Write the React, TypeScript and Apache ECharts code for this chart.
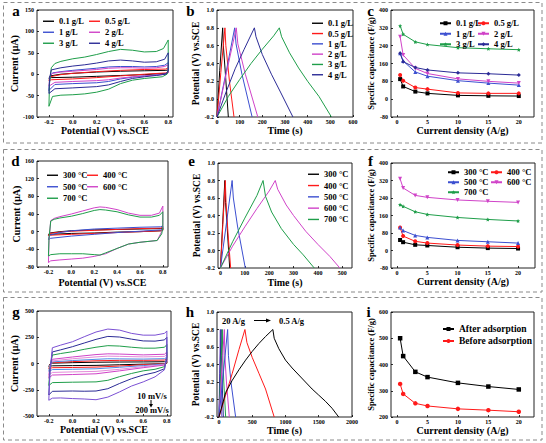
import React, { useEffect, useRef } from 'react';
import * as echarts from 'echarts';

const FONT = '"Liberation Serif", "Times New Roman", serif';

// ---------- tick values ----------
const cvXTicks = [-0.2, 0, 0.2, 0.4, 0.6, 0.8];
const aYTicks = [-100, -50, 0, 50, 100, 150];
const bXTicks = [0, 100, 200, 300, 400, 500, 600];
const gcdYTicks = [-0.2, 0, 0.2, 0.4, 0.6, 0.8, 1.0];
const capXTicks = [0, 5, 10, 15, 20];
const capYTicks = [-80, 0, 80, 160, 240, 320, 400];
const dYTicks = [-80, -40, 0, 40, 80, 120, 160];
const eXTicks = [0, 100, 200, 300, 400, 500];
const gYTicks = [-500, -250, 0, 250, 500];
const hXTicks = [0, 500, 1000, 1500, 2000];
const iYTicks = [200, 300, 400, 500, 600];

// ---------- categories ----------
const concLabels = ['0.1 g/L', '0.5 g/L', '1 g/L', '2 g/L', '3 g/L', '4 g/L'];
const tempLabels = ['300 °C', '400 °C', '500 °C', '600 °C', '700 °C'];
const adsLabels = ['After adsorption', 'Before adsorption'];
const currentDensity = [0.5, 1, 3, 5, 10, 15, 20];

// ---------- panel a: CV at different concentrations ----------
const cvA_01 = [[-0.2,-10],[-0.19,-4],[-0.1,0],[0,2],[0.2,5],[0.4,7],[0.6,8],[0.78,9],[0.8,10],[0.8,4],[0.79,2],[0.6,-1],[0.4,-3],[0.2,-5],[0,-7],[-0.18,-8],[-0.2,-10]];
const cvA_05 = [[-0.2,-15],[-0.19,-6],[-0.1,-1],[0,2],[0.2,6],[0.4,9],[0.6,11],[0.78,12],[0.8,15],[0.8,6],[0.78,3],[0.6,0],[0.4,-4],[0.2,-8],[0,-11],[-0.18,-13],[-0.2,-15]];
const cvA_1 = [[-0.2,-38],[-0.19,-5],[-0.17,3],[-0.1,6],[0,9],[0.2,14],[0.3,17],[0.4,18],[0.5,18],[0.6,17],[0.7,18],[0.77,21],[0.8,27],[0.8,5],[0.78,1],[0.7,-2],[0.6,-4],[0.5,-7],[0.4,-11],[0.3,-17],[0.2,-20],[0,-22],[-0.15,-24],[-0.2,-38]];
const cvA_2 = [[-0.2,-28],[-0.19,-4],[-0.17,2],[-0.1,5],[0,7],[0.2,11],[0.3,14],[0.4,15],[0.5,15],[0.6,14],[0.7,15],[0.77,18],[0.8,22],[0.8,3],[0.78,0],[0.7,-2],[0.6,-4],[0.5,-6],[0.4,-9],[0.3,-13],[0.2,-15],[0,-17],[-0.15,-19],[-0.2,-28]];
const cvA_3 = [[-0.2,-75],[-0.195,-20],[-0.18,15],[-0.15,25],[-0.1,30],[0,36],[0.1,40],[0.2,46],[0.3,53],[0.4,58],[0.5,56],[0.6,52],[0.7,53],[0.76,60],[0.8,80],[0.8,10],[0.79,0],[0.75,-6],[0.6,-10],[0.5,-14],[0.4,-22],[0.3,-35],[0.2,-42],[0.1,-46],[0,-48],[-0.1,-49],[-0.17,-52],[-0.2,-75]];
const cvA_4 = [[-0.2,-45],[-0.195,-10],[-0.18,10],[-0.1,15],[0,19],[0.1,22],[0.2,26],[0.3,31],[0.4,33],[0.5,31],[0.6,28],[0.7,29],[0.77,35],[0.8,50],[0.8,8],[0.78,0],[0.7,-3],[0.6,-6],[0.5,-10],[0.4,-17],[0.3,-25],[0.2,-29],[0,-32],[-0.15,-34],[-0.2,-45]];

// ---------- panel b: GCD at different concentrations ----------
const gcdB_01 = [[0,-0.2],[12,0.32],[25,0.8],[28,0.6],[38,0.25],[50,-0.2]];
const gcdB_05 = [[0,-0.2],[17,0.3],[35,0.8],[39,0.6],[55,0.2],[75,-0.2]];
const gcdB_1 = [[0,-0.2],[40,0.3],[78,0.8],[84,0.62],[110,0.28],[155,-0.2]];
const gcdB_2 = [[0,-0.2],[42,0.3],[85,0.8],[92,0.62],[125,0.28],[180,-0.2]];
const gcdB_3 = [[0,-0.2],[50,0.03],[100,0.22],[150,0.4],[200,0.56],[250,0.71],[275,0.8],[285,0.7],[320,0.52],[360,0.35],[400,0.2],[450,0.03],[505,-0.2]];
const gcdB_4 = [[0,-0.2],[40,0.08],[80,0.34],[120,0.56],[165,0.8],[172,0.7],[200,0.5],[240,0.28],[280,0.08],[335,-0.2]];

// ---------- panel c: specific capacitance by concentration ----------
const capC_01 = [90, 57, 34, 26, 17, 15, 14];
const capC_05 = [108, 83, 52, 45, 28, 26, 26];
const capC_1 = [206, 171, 122, 103, 83, 72, 63];
const capC_2 = [280, 198, 138, 115, 91, 80, 72];
const capC_3 = [329, 291, 257, 245, 231, 226, 222];
const capC_4 = [206, 168, 142, 131, 118, 114, 108];

// ---------- panel d: CV at different temperatures ----------
const cvD_300 = [[-0.2,-8],[-0.19,-3],[-0.1,0],[0,2],[0.2,4],[0.4,5],[0.6,6],[0.78,7],[0.8,8],[0.8,3],[0.78,2],[0.6,0],[0.4,-1],[0.2,-3],[0,-4],[-0.18,-6],[-0.2,-8]];
const cvD_400 = [[-0.2,-9],[-0.19,-4],[-0.1,-1],[0,1],[0.2,3],[0.4,5],[0.6,7],[0.78,8],[0.8,10],[0.8,4],[0.78,2],[0.6,0],[0.4,-2],[0.2,-4],[0,-6],[-0.18,-8],[-0.2,-9]];
const cvD_500 = [[-0.2,-18],[-0.19,-8],[-0.1,-2],[0,2],[0.2,6],[0.4,8],[0.6,10],[0.78,11],[0.8,13],[0.8,6],[0.78,4],[0.6,1],[0.4,-2],[0.2,-6],[0,-10],[-0.18,-15],[-0.2,-18]];
const cvD_600 = [[-0.2,-70],[-0.195,-20],[-0.18,25],[-0.15,30],[-0.1,34],[0,40],[0.1,47],[0.2,54],[0.25,56],[0.3,55],[0.4,50],[0.5,42],[0.6,37],[0.7,37],[0.77,42],[0.8,58],[0.8,15],[0.79,0],[0.75,-20],[0.6,-24],[0.5,-28],[0.4,-38],[0.3,-50],[0.2,-56],[0.1,-60],[0,-62],[-0.1,-64],[-0.18,-66],[-0.2,-70]];
const cvD_700 = [[-0.2,-55],[-0.195,-15],[-0.18,24],[-0.15,28],[-0.1,31],[0,35],[0.1,41],[0.2,48],[0.25,50],[0.3,49],[0.4,45],[0.5,38],[0.6,33],[0.7,33],[0.77,37],[0.8,45],[0.8,10],[0.79,-5],[0.75,-20],[0.6,-24],[0.5,-28],[0.4,-38],[0.3,-48],[0.25,-53],[0.2,-52],[0.1,-50],[0,-50],[-0.1,-50],[-0.18,-52],[-0.2,-55]];

// ---------- panel e: GCD at different temperatures ----------
const gcdE_300 = [[0,-0.2],[9,0.3],[18,0.8],[21,0.55],[28,0.25],[38,-0.2]];
const gcdE_400 = [[0,-0.2],[10,0.3],[20,0.8],[23,0.55],[31,0.2],[42,-0.2]];
const gcdE_500 = [[0,-0.2],[24,0.3],[48,0.8],[53,0.6],[70,0.28],[102,-0.2]];
const gcdE_600 = [[0,-0.2],[50,0.05],[100,0.27],[150,0.48],[200,0.68],[225,0.8],[235,0.7],[270,0.52],[300,0.4],[350,0.22],[400,0.07],[450,-0.07],[490,-0.2]];
const gcdE_700 = [[0,-0.2],[50,0.1],[100,0.37],[150,0.63],[175,0.8],[185,0.62],[210,0.44],[250,0.25],[300,0.07],[340,-0.05],[385,-0.2]];

// ---------- panel f: specific capacitance by temperature ----------
const capF_300 = [48, 38, 26, 23, 15, 11, 9];
const capF_400 = [105, 66, 42, 34, 25, 20, 18];
const capF_500 = [105, 91, 69, 60, 46, 40, 34];
const capF_600 = [328, 286, 252, 243, 231, 225, 220];
const capF_700 = [209, 202, 177, 165, 151, 142, 135];

// ---------- panel g: CV at scan rates 10 -> 200 mV/s ----------
const cvG_1 = [[-0.2,-28],[-0.19,-5],[-0.17,3],[0,8],[0.2,12],[0.4,14],[0.6,15],[0.78,17],[0.8,22],[0.8,3],[0.78,-2],[0.6,-6],[0.4,-12],[0.2,-18],[0,-20],[-0.17,-22],[-0.2,-28]];
const cvG_2 = [[-0.2,-50],[-0.19,-10],[-0.17,8],[0,18],[0.2,26],[0.4,30],[0.6,30],[0.78,33],[0.8,42],[0.8,8],[0.78,-3],[0.6,-12],[0.4,-24],[0.2,-34],[0,-38],[-0.17,-40],[-0.2,-50]];
const cvG_3 = [[-0.2,-75],[-0.19,-15],[-0.17,15],[0,28],[0.2,40],[0.3,45],[0.4,44],[0.6,42],[0.78,46],[0.8,58],[0.8,12],[0.78,-5],[0.6,-20],[0.4,-36],[0.2,-50],[0,-55],[-0.17,-58],[-0.2,-75]];
const cvG_4 = [[-0.2,-110],[-0.19,-20],[-0.17,25],[0,45],[0.2,63],[0.3,70],[0.4,68],[0.6,63],[0.78,68],[0.8,85],[0.8,20],[0.78,-10],[0.6,-30],[0.4,-55],[0.2,-75],[0,-80],[-0.17,-85],[-0.2,-110]];
const cvG_5 = [[-0.2,-140],[-0.19,-30],[-0.17,40],[0,62],[0.2,85],[0.3,92],[0.4,90],[0.6,82],[0.78,88],[0.8,110],[0.8,25],[0.78,-15],[0.6,-40],[0.4,-70],[0.2,-98],[0,-105],[-0.17,-110],[-0.2,-140]];
const cvG_6 = [[-0.2,-210],[-0.19,-40],[-0.17,80],[-0.1,95],[0,112],[0.1,135],[0.2,155],[0.3,170],[0.4,166],[0.5,155],[0.6,146],[0.7,146],[0.78,155],[0.8,180],[0.8,40],[0.78,-30],[0.7,-55],[0.6,-70],[0.5,-95],[0.4,-125],[0.3,-160],[0.2,-175],[0,-178],[-0.17,-182],[-0.2,-210]];
const cvG_7 = [[-0.2,-300],[-0.19,-60],[-0.17,110],[-0.1,130],[0,160],[0.1,195],[0.2,230],[0.3,258],[0.4,252],[0.5,232],[0.6,215],[0.7,213],[0.78,225],[0.8,250],[0.8,60],[0.78,-50],[0.7,-85],[0.6,-110],[0.5,-145],[0.4,-190],[0.3,-240],[0.2,-262],[0.1,-264],[0,-262],[-0.17,-265],[-0.2,-300]];
const cvG_8 = [[-0.2,-350],[-0.19,-80],[-0.17,150],[-0.1,175],[0,207],[0.1,255],[0.2,300],[0.3,328],[0.4,318],[0.5,287],[0.6,270],[0.7,270],[0.78,287],[0.8,310],[0.8,90],[0.78,-60],[0.7,-127],[0.6,-175],[0.5,-215],[0.4,-270],[0.3,-320],[0.2,-345],[0.1,-338],[0,-334],[-0.1,-328],[-0.17,-330],[-0.2,-350]];

// ---------- panel h: GCD at 20 -> 0.5 A/g ----------
const gcdH_20 = [[0,-0.2],[10,0.3],[20,0.8],[23,0.5],[30,0.2],[42,-0.2]];
const gcdH_15 = [[0,-0.2],[15,0.3],[32,0.8],[36,0.5],[48,0.2],[65,-0.2]];
const gcdH_10 = [[0,-0.2],[25,0.3],[50,0.8],[56,0.5],[72,0.2],[100,-0.2]];
const gcdH_5 = [[0,-0.2],[40,0.3],[80,0.8],[88,0.5],[112,0.2],[155,-0.2]];
const gcdH_3 = [[0,-0.2],[65,0.3],[130,0.8],[142,0.5],[180,0.2],[250,-0.2]];
const gcdH_1 = [[0,-0.2],[100,0.05],[200,0.3],[300,0.57],[390,0.8],[420,0.65],[500,0.48],[600,0.3],[700,0.12],[830,-0.2]];
const gcdH_05 = [[0,-0.2],[100,0.08],[200,0.22],[300,0.34],[400,0.45],[500,0.55],[600,0.64],[700,0.72],[810,0.8],[830,0.7],[900,0.58],[1000,0.45],[1100,0.36],[1200,0.28],[1300,0.2],[1400,0.12],[1500,0.05],[1600,-0.02],[1700,-0.1],[1800,-0.2]];

// ---------- panel i ----------
const capI_after = [500, 432, 372, 352, 330, 316, 305];
const capI_before = [326, 288, 252, 242, 231, 226, 220];

// ---------- colours ----------
const C = {
  black: '#000000', red: '#ff1a1a', blue: '#3c4fd0', magenta: '#d043c8',
  green: '#1f9e4a', navy: '#2b2b96', lblue: '#4d8de6', pink: '#e58ad9', violet: '#7b50d4',
};

const STAR = 'path://M0,-10 L2.9,-4 L9.5,-3.1 L4.8,1.5 L5.9,8.1 L0,5 L-5.9,8.1 L-4.8,1.5 L-9.5,-3.1 L-2.9,-4 Z';

const fmt1 = (v: number) => (Math.abs(v) < 1e-9 ? '0.0' : v.toFixed(1));
const fmt0 = (v: number) => String(Math.round(v));

function xAx(i: number, min: number, max: number, ticks: number[], fmt: any, name: string, gap: number) {
  return {
    type: 'value', gridIndex: i, min, max, name, nameLocation: 'middle', nameGap: gap,
    nameTextStyle: { fontFamily: FONT, fontWeight: 'bold', fontSize: 10, color: '#000' },
    axisLine: { show: false, onZero: false }, splitLine: { show: false },
    axisTick: { show: true, inside: true, length: 2, lineStyle: { color: '#000', width: 0.8 }, customValues: ticks },
    axisLabel: { fontFamily: FONT, fontWeight: 'bold', fontSize: 6, color: '#000', margin: 2, customValues: ticks, formatter: fmt },
  };
}
function yAx(i: number, min: number, max: number, ticks: number[], fmt: any, name: string, gap: number, nameSize = 10) {
  return {
    type: 'value', gridIndex: i, min, max, name, nameLocation: 'middle', nameGap: gap,
    nameTextStyle: { fontFamily: FONT, fontWeight: 'bold', fontSize: nameSize, color: '#000' },
    axisLine: { show: false, onZero: false }, splitLine: { show: false },
    axisTick: { show: true, inside: true, length: 2, lineStyle: { color: '#000', width: 0.8 }, customValues: ticks },
    axisLabel: { fontFamily: FONT, fontWeight: 'bold', fontSize: 6, color: '#000', margin: 3, customValues: ticks, formatter: fmt },
  };
}
function line(p: string, i: number, name: string, data: any, color: string) {
  return {
    type: 'line', name: p + '#' + name, xAxisIndex: i, yAxisIndex: i, data, symbol: 'none',
    lineStyle: { color, width: 1 }, itemStyle: { color }, silent: true,
  };
}
function cap(p: string, i: number, name: string, vals: number[], color: string, symbol: string, rot = 0, size = 4) {
  return {
    type: 'line', name: p + '#' + name, xAxisIndex: i, yAxisIndex: i,
    data: currentDensity.map((x, k) => [x, vals[k]]),
    symbol, symbolSize: size, symbolRotate: rot, showSymbol: true,
    lineStyle: { color, width: 1 }, itemStyle: { color, borderWidth: 0 }, silent: true,
  };
}
// plain line legends (no marker)
function legendL(left: number, top: number, names: string[], gap: number, fontSize = 8.5) {
  return {
    left, top, orient: 'vertical', data: names, itemGap: gap, itemWidth: 11, itemHeight: 1.4, padding: 0,
    icon: 'rect', selectedMode: false,
    textStyle: { fontFamily: FONT, fontWeight: 'bold', fontSize, color: '#000' },
    formatter: (n: string) => n.split('#')[1],
  };
}
// line + marker legends
function legendM(left: number, top: number, names: string[], gap: number, fontSize = 8.5) {
  return {
    left, top, orient: 'vertical', data: names, itemGap: gap, itemWidth: 11, itemHeight: 5, padding: 0,
    selectedMode: false, itemStyle: { borderWidth: 0 },
    textStyle: { fontFamily: FONT, fontWeight: 'bold', fontSize, color: '#000' },
    formatter: (n: string) => n.split('#')[1],
  };
}
const pn = (p: string, arr: string[]) => arr.map((n) => p + '#' + n);

export default function App() {
  const ref = useRef<HTMLDivElement>(null);
  useEffect(() => {
    if (!ref.current) return;
    const chart = echarts.init(ref.current, undefined, { renderer: 'svg' });
    const gridBox = (left: number, top: number, width: number, height: number) => ({
      left, top, width, height, show: true, borderColor: '#222', borderWidth: 1, backgroundColor: 'transparent',
    });
    const grids = [
      gridBox(37, 10, 136, 107),
      gridBox(217, 10, 136, 107),
      gridBox(391, 10, 143, 107),
      gridBox(37, 161, 131, 106),
      gridBox(218, 163, 134, 105),
      gridBox(391, 163, 144, 105),
      gridBox(37, 311, 134, 105),
      gridBox(217, 312, 135, 105),
      gridBox(391, 312, 143, 105),
    ];
    const xAxes = [
      xAx(0, -0.3, 0.84, cvXTicks, fmt1, 'Potential (V) vs.SCE', 8),
      xAx(1, 0, 600, bXTicks, fmt0, 'Time (s)', 8),
      xAx(2, -1, 22.5, capXTicks, fmt0, 'Current density (A/g)', 4),
      xAx(3, -0.3, 0.845, cvXTicks, fmt1, 'Potential (V) vs.SCE', 10),
      xAx(4, -10, 540, eXTicks, fmt0, 'Time (s)', 9),
      xAx(5, -1, 22.8, capXTicks, fmt0, 'Current density (A/g)', 7),
      xAx(6, -0.3, 0.835, cvXTicks, fmt1, 'Potential (V) vs.SCE', 8.5),
      xAx(7, -30, 2000, hXTicks, fmt0, 'Time (s)', 7),
      xAx(8, -1, 22.5, capXTicks, fmt0, 'Current density (A/g)', 6.5),
    ];
    const yAxes = [
      yAx(0, -100, 150, aYTicks, fmt0, 'Current (μA)', 14),
      yAx(1, -0.2, 1.0, gcdYTicks, fmt1, 'Potential (V) vs.SCE', 16, 9.5),
      yAx(2, -80, 400, capYTicks, fmt0, 'Specific capacitance (F/g)', 11, 8.5),
      yAx(3, -80, 160, dYTicks, fmt0, 'Current (μA)', 11.5),
      yAx(4, -0.2, 1.0, gcdYTicks, fmt1, 'Potential (V) vs.SCE', 16, 9.5),
      yAx(5, -80, 400, capYTicks, fmt0, 'Specific capacitance (F/g)', 10.5, 8.5),
      yAx(6, -500, 500, gYTicks, fmt0, 'Current (μA)', 13),
      yAx(7, -0.2, 1.0, gcdYTicks, fmt1, 'Potential (V) vs.SCE', 15, 9.5),
      yAx(8, 200, 600, iYTicks, fmt0, 'Specific capacitance (F/g)', 10.5, 8.5),
    ];
    const concColors = [C.black, C.red, C.blue, C.magenta, C.green, C.navy];
    const tempColors = [C.black, C.red, C.blue, C.magenta, C.green];
    const cvA = [cvA_01, cvA_05, cvA_1, cvA_2, cvA_3, cvA_4];
    const gcdB = [gcdB_01, gcdB_05, gcdB_1, gcdB_2, gcdB_3, gcdB_4];
    const capC = [capC_01, capC_05, capC_1, capC_2, capC_3, capC_4];
    const cvD = [cvD_300, cvD_400, cvD_500, cvD_600, cvD_700];
    const gcdE = [gcdE_300, gcdE_400, gcdE_500, gcdE_600, gcdE_700];
    const capF = [capF_300, capF_400, capF_500, capF_600, capF_700];
    const cvG = [cvG_1, cvG_2, cvG_3, cvG_4, cvG_5, cvG_6, cvG_7, cvG_8];
    const gColors = [C.black, C.red, C.lblue, C.pink, C.magenta, C.green, C.navy, C.violet];
    const gcdH = [gcdH_20, gcdH_15, gcdH_10, gcdH_5, gcdH_3, gcdH_1, gcdH_05];
    const hColors = [C.violet, C.navy, C.green, C.magenta, C.blue, C.red, C.black];
    const capSym: [string, number][] = [['rect', 0], ['circle', 0], ['triangle', 0], ['triangle', 180], [STAR, 0], ['diamond', 0]];

    const series: any[] = [];
    concLabels.forEach((n, k) => series.push(line('a', 0, n, cvA[k], concColors[k])));
    concLabels.forEach((n, k) => series.push(line('b', 1, n, gcdB[k], concColors[k])));
    concLabels.forEach((n, k) => series.push(cap('c', 2, n, capC[k], concColors[k], capSym[k][0], capSym[k][1])));
    tempLabels.forEach((n, k) => series.push(line('d', 3, n, cvD[k], tempColors[k])));
    tempLabels.forEach((n, k) => series.push(line('e', 4, n, gcdE[k], tempColors[k])));
    tempLabels.forEach((n, k) => series.push(cap('f', 5, n, capF[k], tempColors[k], capSym[k][0], capSym[k][1])));
    cvG.forEach((d, k) => series.push(line('g', 6, 'cv' + k, d, gColors[k])));
    gcdH.forEach((d, k) => series.push(line('h', 7, 'gcd' + k, d, hColors[k])));
    series.push(cap('i', 8, adsLabels[0], capI_after, C.black, 'rect', 0, 4.5));
    series.push(cap('i', 8, adsLabels[1], capI_before, C.red, 'circle', 0, 4.5));

    const legends = [
      legendL(43, 16.75, pn('a', [concLabels[0], concLabels[2], concLabels[4]]), 2),
      legendL(89, 16.75, pn('a', [concLabels[1], concLabels[3], concLabels[5]]), 2),
      legendL(312, 18.75, pn('b', concLabels), 1.3),
      legendM(439, 18.75, pn('c', [concLabels[0], concLabels[2], concLabels[4]]), 1.5),
      legendM(477, 18.75, pn('c', [concLabels[1], concLabels[3], concLabels[5]]), 1.5),
      legendL(47, 170.75, pn('d', [tempLabels[0], tempLabels[2], tempLabels[4]]), 2.5),
      legendL(87, 170.75, pn('d', [tempLabels[1], tempLabels[3]]), 2.5),
      legendL(308, 169.75, pn('e', tempLabels), 2.3),
      legendM(447, 167.75, pn('f', [tempLabels[0], tempLabels[2], tempLabels[4]]), 1),
      legendM(490, 167.75, pn('f', [tempLabels[1], tempLabels[3]]), 1),
      legendM(442, 324, pn('i', adsLabels), 2, 9.5),
    ];

    const dashed = (y: number, h: number) => ({
      type: 'rect', shape: { x: 3.5, y, width: 538.5, height: h }, silent: true,
      style: { fill: 'none', stroke: '#8a8a8a', lineWidth: 1, lineDash: [4, 3] },
    });
    const letter = (t: string, x: number, y: number) => ({
      type: 'text', x, y, silent: true,
      style: { text: t, fill: '#000', font: `bold 15px ${FONT}`, align: 'center', verticalAlign: 'middle' },
    });
    const label = (t: string, x: number, y: number, align = 'center') => ({
      type: 'text', x, y, silent: true,
      style: { text: t, fill: '#000', font: `bold 8.5px ${FONT}`, align, verticalAlign: 'middle' },
    });

    const graphic = [
      dashed(2.5, 140.5), dashed(149.5, 142.5), dashed(297.5, 142.5),
      letter('a', 16, 10.6), letter('b', 190.5, 10.6), letter('c', 370.5, 10.6),
      letter('d', 15.5, 160.6), letter('e', 191.5, 160.6), letter('f', 370.5, 160.6),
      letter('g', 16, 311.6), letter('h', 190, 311.6), letter('i', 368.5, 311.6),
      label('10 mV/s', 152, 396), label('200 mV/s', 152, 409.5),
      { type: 'line', silent: true, shape: { x1: 151, y1: 400, x2: 151, y2: 405 }, style: { stroke: '#000', lineWidth: 1 } },
      { type: 'polygon', silent: true, shape: { points: [[149, 404], [153, 404], [151, 407.5]] }, style: { fill: '#000' } },
      label('20 A/g', 222, 320.5, 'left'), label('0.5 A/g', 279, 320.5, 'left'),
      { type: 'line', silent: true, shape: { x1: 254, y1: 320.5, x2: 267, y2: 320.5 }, style: { stroke: '#000', lineWidth: 1 } },
      { type: 'polygon', silent: true, shape: { points: [[266, 318.5], [266, 322.5], [271, 320.5]] }, style: { fill: '#000' } },
    ];

    chart.setOption({
      animation: false,
      backgroundColor: '#ffffff',
      textStyle: { fontFamily: FONT },
      grid: grids,
      xAxis: xAxes,
      yAxis: yAxes,
      legend: legends,
      series,
      graphic,
    });
    return () => chart.dispose();
  }, []);
  return <div ref={ref} style={{ position: 'fixed', left: 0, top: 0, width: 546, height: 443 }} />;
}
